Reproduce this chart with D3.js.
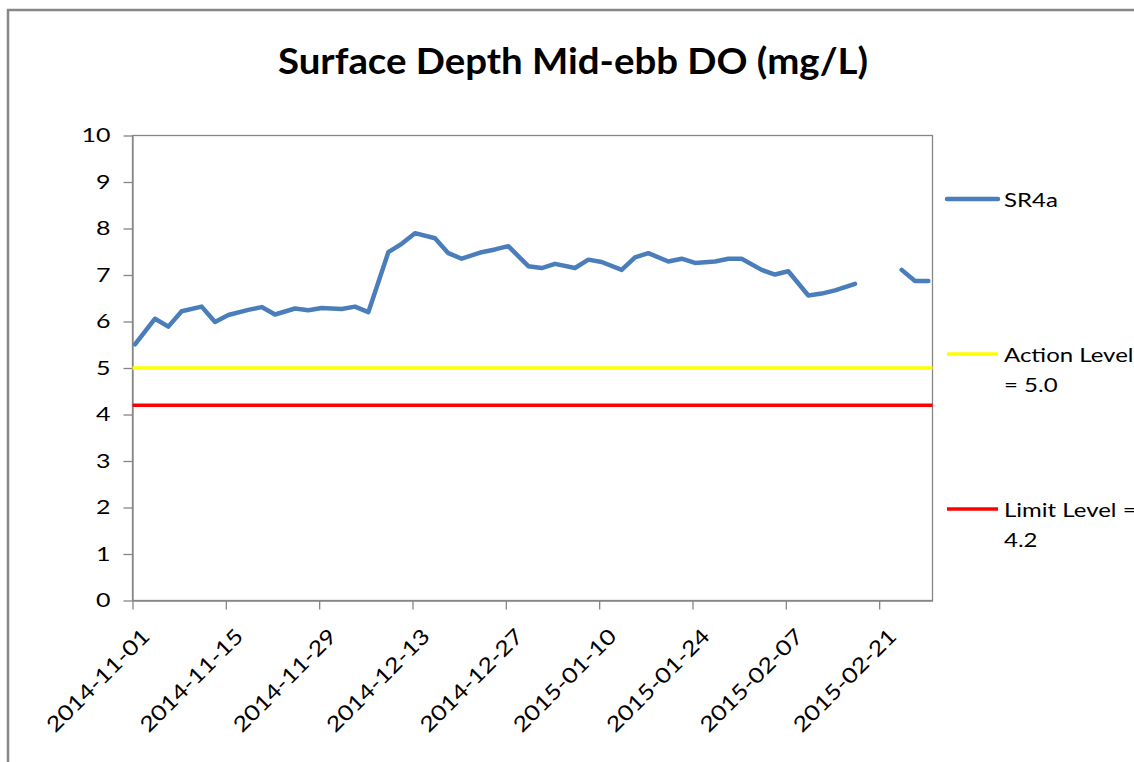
<!DOCTYPE html>
<html>
<head>
<meta charset="utf-8">
<script src="https://cdn.jsdelivr.net/npm/d3@7"></script>
<style>
    html, body { margin: 0; padding: 0; background: #fff; }
    svg { display: block; }
</style>
</head>
<body>
<svg width="1134" height="762"></svg>
<script>
/////////////////////////////////
// Surface Depth Mid-ebb DO chart.
//

// Sampling dates (null values are the missing samples).
const sampleDates = [
    "2014-11-01", "2014-11-04", "2014-11-06", "2014-11-08", "2014-11-11", "2014-11-13",
    "2014-11-15", "2014-11-18", "2014-11-20", "2014-11-22", "2014-11-25", "2014-11-27",
    "2014-11-29", "2014-12-02", "2014-12-04", "2014-12-06", "2014-12-09", "2014-12-11",
    "2014-12-13", "2014-12-16", "2014-12-18", "2014-12-20", "2014-12-23", "2014-12-25",
    "2014-12-27", "2014-12-30", "2015-01-01", "2015-01-03", "2015-01-06", "2015-01-08",
    "2015-01-10", "2015-01-13", "2015-01-15", "2015-01-17", "2015-01-20", "2015-01-22",
    "2015-01-24", "2015-01-27", "2015-01-29", "2015-01-31", "2015-02-03", "2015-02-05",
    "2015-02-07", "2015-02-10", "2015-02-12", "2015-02-14", "2015-02-17", "2015-02-19",
    "2015-02-21", "2015-02-24", "2015-02-26", "2015-02-28"
];

const sr4aValues = [
    5.51, 6.06, 5.89, 6.22, 6.32, 5.99,
    6.14, 6.25, 6.31, 6.15, 6.28, 6.24,
    6.29, 6.27, 6.32, 6.20, 7.49, 7.67,
    7.90, 7.79, 7.47, 7.35, 7.49, 7.55,
    7.62, 7.19, 7.15, 7.24, 7.15, 7.33,
    7.28, 7.11, 7.38, 7.47, 7.29, 7.35,
    7.26, 7.29, 7.35, 7.35, 7.11, 7.01,
    7.08, 6.56, 6.60, 6.67, 6.81, null,
    null, 7.11, 6.87, 6.87
];

// Sampling hour (points sit a little right of the date ticks).
const sampleHour = 9;

const actionLevel = 5.0;
const limitLevel = 4.2;

const xDomain = ["2014-11-01", "2015-03-01"];
const xTicks = [
    "2014-11-01", "2014-11-15", "2014-11-29", "2014-12-13", "2014-12-27",
    "2015-01-10", "2015-01-24", "2015-02-07", "2015-02-21"
];
const yTicks = [0, 1, 2, 3, 4, 5, 6, 7, 8, 9, 10];

const seriesNames = ["SR4a", "Action Level = 5.0", "Limit Level = 4.2"];
const legendLines = [["SR4a"], ["Action Level", "= 5.0"], ["Limit Level =", "4.2"]];
const seriesColors = ["#4a7ebb", "#ffff00", "#ff0000"];

document.addEventListener("DOMContentLoaded", () => {

    const parseDate = d3.timeParse("%Y-%m-%d");
    const font = "Lato, 'Open Sans', sans-serif";
    const axisColor = "#868686";
    // The source picture is a little wider than tall, so text gets stretched too.
    const stretch = 1.2;

    const plot = { left: 132.5, right: 932.5, top: 135.5, bottom: 600.5 };

    const svg = d3.select("svg");

    // Outer chart frame.
    svg.append("rect")
        .attr("x", 8)
        .attr("y", 10)
        .attr("width", 1300)
        .attr("height", 900)
        .style("fill", "#fff")
        .style("stroke", "#878787")
        .style("stroke-width", 2.5);

    const x = d3.scaleTime()
        .domain(xDomain.map(parseDate))
        .range([plot.left, plot.right]);

    const y = d3.scaleLinear()
        .domain([0, 10])
        .range([plot.bottom, plot.top]);

    // Title.
    svg.append("text")
        .attr("x", 573)
        .attr("y", 74)
        .attr("text-anchor", "middle")
        .attr("textLength", 590)
        .attr("lengthAdjust", "spacingAndGlyphs")
        .style("font-family", font)
        .style("font-weight", "bold")
        .style("font-size", "36px")
        .style("fill", "#000")
        .text("Surface Depth Mid-ebb DO (mg/L)");

    // Plot area border (top / right).
    svg.append("rect")
        .attr("x", plot.left)
        .attr("y", plot.top)
        .attr("width", plot.right - plot.left)
        .attr("height", plot.bottom - plot.top)
        .style("fill", "none")
        .style("stroke", axisColor)
        .style("stroke-width", 1.3);

    // Y axis.
    const yAxis = svg.append("g")
        .attr("transform", `translate(${plot.left},0)`)
        .call(d3.axisLeft(y)
            .tickValues(yTicks)
            .tickSize(9)
            .tickSizeOuter(0)
            .tickFormat(d3.format("d")));

    yAxis.selectAll("path, line")
        .style("stroke", axisColor)
        .style("stroke-width", 1.3);
    yAxis.selectAll("text")
        .attr("x", null)
        .attr("transform", `translate(-22,0) scale(${stretch + 0.05},1)`)
        .style("font-family", font)
        .style("font-size", "20px")
        .style("fill", "#000");

    // X axis.
    const xAxis = svg.append("g")
        .attr("transform", `translate(0,${plot.bottom})`)
        .call(d3.axisBottom(x)
            .tickValues(xTicks.map(parseDate))
            .tickSize(9)
            .tickSizeOuter(0)
            .tickFormat(d3.timeFormat("%Y-%m-%d")));

    xAxis.selectAll("path, line")
        .style("stroke", axisColor)
        .style("stroke-width", 1.3);
    xAxis.selectAll("text")
        .attr("x", null)
        .attr("y", null)
        .attr("dy", "0.35em")
        .attr("text-anchor", "end")
        .attr("transform", `translate(13,32) rotate(-45) scale(${stretch},1)`)
        .style("font-family", font)
        .style("font-size", "21px")
        .style("fill", "#000");

    // Level lines across the whole date range.
    [actionLevel, limitLevel].forEach((level, i) => {

        svg.append("line")
            .attr("x1", x.range()[0])
            .attr("x2", x.range()[1])
            .attr("y1", y(level))
            .attr("y2", y(level))
            .style("stroke", seriesColors[i + 1])
            .style("stroke-width", 3.5);
    });

    // SR4a series.
    const data = sampleDates.map((d, i) => {

        return { date: d3.timeHour.offset(parseDate(d), sampleHour), value: sr4aValues[i] };
    });

    const line = d3.line()
        .defined((d) => d.value !== null)
        .x((d) => x(d.date))
        .y((d) => y(d.value));

    svg.append("path")
        .datum(data)
        .attr("d", line)
        .style("fill", "none")
        .style("stroke", seriesColors[0])
        .style("stroke-width", 4.5)
        .style("stroke-linejoin", "round")
        .style("stroke-linecap", "round");

    // Legend.
    const legend = svg.append("g");
    legendLines.forEach((lines, i) => {

        const ly = 199 + i * 155;
        legend.append("line")
            .attr("x1", 947)
            .attr("x2", 998)
            .attr("y1", ly)
            .attr("y2", ly)
            .style("stroke", seriesColors[i])
            .style("stroke-width", i === 0 ? 4.5 : 3.5)
            .style("stroke-linecap", i === 0 ? "round" : "butt");

        lines.forEach((t, j) => {

            legend.append("text")
                .attr("transform", `translate(1004,${ly + 7.5 + j * 30}) scale(${stretch},1)`)
                .style("font-family", font)
                .style("font-size", "20px")
                .style("fill", "#000")
                .text(t);
        });
    });
});
</script>
</body>
</html>
